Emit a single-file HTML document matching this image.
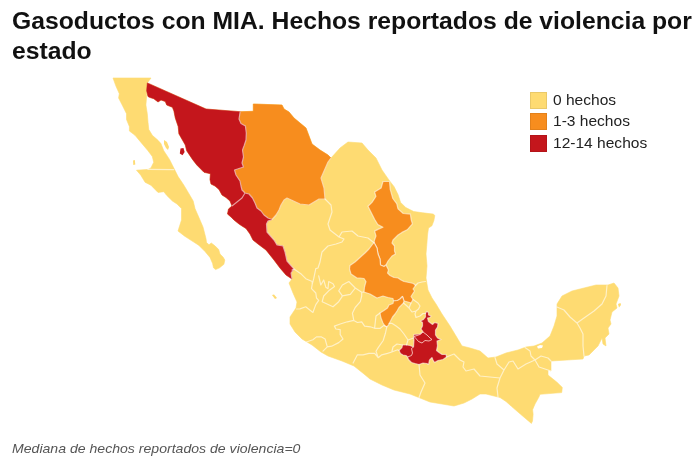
<!DOCTYPE html>
<html lang="es">
<head>
<meta charset="utf-8">
<title>Gasoductos con MIA</title>
<style>
html,body{margin:0;padding:0;background:#fff;}
body{width:700px;height:460px;position:relative;overflow:hidden;font-family:"Liberation Sans",sans-serif;color:#111;}
h1{position:absolute;left:12px;top:6px;margin:0;width:640px;font-size:23px;line-height:30px;font-weight:bold;color:#111;white-space:nowrap;transform:scaleX(1.0746);transform-origin:0 0;}
svg{position:absolute;left:0;top:0;}
.lg{position:absolute;left:530px;width:160px;height:17px;font-size:14px;line-height:17px;color:#222;white-space:nowrap;}
.lg i{position:absolute;left:0;top:0;width:17px;height:17px;box-sizing:border-box;border:1px solid rgba(0,0,0,0.08);}
.lg span{position:absolute;left:23px;top:0;font-size:14.5px;transform:scaleX(1.072);transform-origin:0 0;}
.ft{position:absolute;left:12px;top:438.5px;font-size:13px;line-height:20px;font-style:italic;color:#555;white-space:nowrap;transform:scaleX(1.083);transform-origin:0 0;}
</style>
</head>
<body>
<h1>Gasoductos con MIA. Hechos reportados de violencia por<br>estado</h1>
<svg width="700" height="460" viewBox="0 0 700 460">
<path d="M113,78 L151,78 L147.3,82.9 L206,109 L240.2,111.7 L253.3,111.3 L253.3,104 L282,105 L284,109 L289,112 L294,118 L300,123 L306,128 L309,136 L312,144 L320,150 L328,155 L331,158 L340,148 L348,142 L362,143 L368,150 L376,158 L382,170 L389.6,180.9 L394.1,186.7 L398,194.6 L400.6,202.4 L405.8,207.6 L413.7,211.5 L422.8,212.8 L433.2,214.1 L434.8,215.4 L433.9,220.6 L431.9,225.8 L428.5,228 L427.5,235 L427,242 L426,254 L427,266 L426,278 L428,290 L432,298 L436,304 L442,314 L450,326 L456,336 L462,346 L470,348 L480,351 L488,358 L496,357 L506,353 L518,350 L526,347 L534,346 L542,343 L550,336 L554,326 L557,316 L557,304 L562,296 L572,291 L584,288 L596,285 L608,285 L614,283 L618,288 L619,296 L616,304 L617,308 L612,312 L610,320 L611,324 L608,328 L609,334 L605,338 L606,346 L603,344 L602,338 L598,346 L594,350 L589,355 L584,356 L583,359 L551,361 L551,371 L548,370 L548,375 L557,382.3 L562.3,387.4 L561.7,392.6 L540,394.3 L538.9,397.1 L535,404 L532.6,409.7 L533.1,414.3 L532.5,421 L531.4,423.4 L520.6,414.3 L511.4,406.3 L506,401.5 L500,397.5 L494,396 L486,394 L480,394 L472,399 L464,403 L454,406 L442,404 L430,402 L420,398 L410,394 L394,390 L382,385 L370,379 L364,374 L354,366 L342,361 L328,356 L321,352 L312,345 L302,339 L295,332 L290,324 L290,317 L296,308 L297,302 L293,293 L289,283 L292,279 L286,275 L280,268 L274,260 L266,250 L258,244 L253,240 L250,234 L246,228.5 L242,226 L239,224 L234,220 L231,217 L227.5,214 L228.5,209 L232,206 L230,201 L226,197.5 L222,195 L219,189.5 L215,186 L211,184 L210,179.5 L210.4,173.7 L204,172.3 L196.8,165 L192.5,159.4 L186.7,150.8 L185.3,145 L179.6,135 L178.9,133.8 L178.2,126.6 L175.3,118 L173.9,110.9 L172.4,107.3 L166.7,105 L165.3,101.5 L161,100 L158,102 L153.8,98.7 L150,97.5 L148,96.5 L146.6,90.8 L146.6,96.5 L145.9,105 L147.3,113.7 L148,122.3 L148.8,129.5 L152.3,135.3 L158,140.3 L160.9,143.6 L163.8,150.8 L169.5,159.4 L173.8,168 L178.1,176.6 L183.9,185.2 L188.2,192.4 L193.2,201 L195,208.6 L198.7,217 L203,227 L206,238.7 L206.5,242.6 L209,244.8 L211.3,243 L215.2,246 L218.7,249.6 L220,254 L223,257 L224.8,260 L223.9,264.3 L219.6,267.8 L215.6,269.6 L213.5,267.8 L212.6,263.5 L210,257.4 L204.8,251.3 L198.7,245.2 L193,241.6 L184.4,236 L178,231 L181.5,220 L181.5,208.6 L177,204 L172.4,201 L166.6,195.3 L163.8,191.7 L158,192.4 L150.9,185.2 L145.1,182.3 L140.8,175.2 L136.5,170.2 L148,169.4 L150.9,168 L153.7,162.3 L152.3,156.5 L148,150.8 L140.8,142.2 L135,135.3 L129.4,131 L129.4,126.6 L126.5,119.5 L126.5,113.7 L122.2,105 L118.6,98 L119.3,93.7 L115.8,85.8Z" fill="#fedb72" stroke="#fedb72" stroke-width="0.6" stroke-linejoin="round"/>
<path d="M164,140 L167,142 L169,147 L168,150 L166,148 L164,144Z" fill="#fedb72"/>
<path d="M133,160.5 L134.8,160 L135.3,164.5 L133.3,165Z" fill="#fedb72"/>
<path d="M272,295 L274,294.5 L277,298 L275,299Z" fill="#fedb72"/>
<path d="M618,304 L620.5,303 L621,305 L619,307.5Z" fill="#fedb72"/>
<path d="M180.5,148.5 L183.5,148 L184.6,152 L182.5,155.3 L179.8,153.5Z" fill="#c4161c"/>
<path d="M537,346.5 L540,345 L543,345.5 L542,348 L538,348.5Z" fill="#fff"/>
<path d="M240.2,111.7 L253.3,111.3 L253.3,104 L282,105 L284,109 L289,112 L294,118 L300,123 L306,128 L309,136 L312,144 L320,150 L328,155 L331,158 L328,162 L321,178 L324,188 L325,199 L319,199 L309,205 L300,204 L287,198 L284,200 L281,205 L279,210 L276,215 L272,219.5 L268,218 L264,215 L261,211 L257,208 L255,203 L252.5,198 L249,194 L245,193 L242,190 L241,186 L240,181 L236,175 L234.5,170 L239,168.5 L243.5,167 L242,163 L243.5,157 L242.5,150 L244,146 L246,140 L246.3,133 L245.4,126 L241,123.5 L239,119Z" fill="#f78d1e" stroke="#f78d1e" stroke-width="0.5" stroke-linejoin="round"/>
<path d="M147.3,82.9 L206,109 L240.2,111.7 L239,119 L241,123.5 L245.4,126 L246.3,133 L246,140 L244,146 L242.5,150 L243.5,157 L242,163 L243.5,167 L239,168.5 L234.5,170 L236,175 L240,181 L241,186 L242,190 L245,193 L242,198 L237,202 L232,206 L230,201 L226,197.5 L222,195 L219,189.5 L215,186 L211,184 L210,179.5 L210.4,173.7 L204,172.3 L196.8,165 L192.5,159.4 L186.7,150.8 L185.3,145 L179.6,135 L178.9,133.8 L178.2,126.6 L175.3,118 L173.9,110.9 L172.4,107.3 L166.7,105 L165.3,101.5 L161,100 L158,102 L153.8,98.7 L150,97.5 L148,96.5 L146.6,90.8Z" fill="#c4161c" stroke="#c4161c" stroke-width="0.5" stroke-linejoin="round"/>
<path d="M245,193 L249,194 L252.5,198 L255,203 L257,208 L261,211 L264,215 L268,218 L272,219.5 L268,221 L266.5,224 L267,232 L274,240 L277,245 L283,246 L285,252 L287,261 L294,269 L291,273 L292,279 L286,275 L280,268 L274,260 L266,250 L258,244 L253,240 L250,234 L246,228.5 L242,226 L239,224 L234,220 L231,217 L227.5,214 L228.5,209 L232,206 L237,202 L242,198Z" fill="#c4161c" stroke="#c4161c" stroke-width="0.5" stroke-linejoin="round"/>
<path d="M240.2,111.7 L239,119 L241,123.5 L245.4,126 L246.3,133 L246,140 L244,146 L242.5,150 L243.5,157 L242,163 L243.5,167 L239,168.5 L234.5,170 L236,175 L240,181 L241,186 L242,190 L245,193 M245,193 L242,198 L237,202 L232,206 M245,193 L249,194 L252.5,198 L255,203 L257,208 L261,211 L264,215 L268,218 L272,219.5 M272,219.5 L268,221 L266.5,224 L267,232 L274,240 L277,245 L283,246 L285,252 L287,261 L294,269 L291,273 L292,279 M331,158 L328,162 L321,178 L324,188 L325,199 L319,199 L309,205 L300,204 L287,198 L284,200 L281,205 L279,210 L276,215 L272,219.5" fill="none" stroke="#fff" stroke-opacity="0.55" stroke-width="1.2" stroke-linejoin="round"/>
<path d="M389.5,181.5 L390.2,189.3 L392.8,198.5 L396.7,203.7 L398,208.9 L403.2,213.5 L410.4,214.1 L411.1,219.3 L412.4,223.9 L407.2,229.8 L401.9,232.4 L398,235 L397,236 L393,240 L392,243 L394.5,246 L394.5,251 L395.5,254 L392,256 L388,261 L386,265 L384,266.5 L380.5,265 L380,259 L378,254 L377,248 L374,242.5 L374.5,240 L376,236 L374.6,231.1 L378.5,229.1 L383,227.2 L377.8,224.5 L374.6,219.3 L371.3,212.8 L368,206.3 L372,202.4 L375.9,196.5 L374.6,192 L381.1,188 L383,181.5Z" fill="#f78d1e" stroke="#fff" stroke-opacity="0.55" stroke-width="1.2" stroke-linejoin="round"/>
<path d="M374,242.5 L377,248 L378,254 L380,259 L380.5,265 L384,266.5 L386,265 L388.5,270 L387.5,273 L390,275.5 L394,277.5 L398,278 L401,280 L404,281.5 L409,282.5 L413.5,283.5 L415.5,285.5 L413,289 L414.5,291 L411,296.5 L413,299.5 L411,303 L408,302 L404,301 L402.5,296.5 L400,299 L397.5,300.5 L393.5,301 L393,298.5 L388,297.5 L383,296 L377,298 L370,294 L364,292 L364.5,287 L366,281.5 L364,278.5 L360,278 L357,278 L351,274 L349.5,269 L350,265.5 L355,262 L360,257.5 L365,253 L369,249 L372,245Z" fill="#f78d1e" stroke="#fff" stroke-opacity="0.55" stroke-width="1.2" stroke-linejoin="round"/>
<path d="M393.5,301 L397.5,300.5 L400,299 L402.5,296.5 L404,301 L403.5,303 L401.5,305 L399,307.5 L397,311 L395,314 L392.5,317 L390.5,321 L388.5,325 L386.8,326.8 L385,326 L383,323 L381,318 L380,313 L384,310.5 L387.5,308 L389,305 L393,303.5Z" fill="#f78d1e" stroke="#fff" stroke-opacity="0.55" stroke-width="1.2" stroke-linejoin="round"/>
<path d="M426.5,311.5 L428.5,312.5 L428.5,315 L431,316 L430,317.5 L427.5,318 L428.5,321.5 L432.5,324.5 L434.5,322.5 L438,323.5 L437.5,327 L435.5,330 L435.5,335 L437.5,338 L441,339.5 L437,341 L437.5,346 L436.5,350.5 L439,352.5 L442,354.5 L446,354.5 L446.5,357 L443,359.5 L438,360.5 L434.5,362.5 L433,360 L432,357.5 L429.5,360 L428.5,364.5 L427,363.5 L423,363 L419,364.5 L415,363.5 L411.5,362.5 L408.5,359.5 L407.5,357 L406,355.5 L403,355 L400.5,353.5 L399,350.5 L402,347.5 L402.5,345 L406.5,345 L410,345.5 L413.5,347 L414,340 L413.5,337 L414,334.5 L420,334 L423,331.5 L421,329 L422.5,326 L422.5,322.5 L420.5,321 L423.5,319.5 L425.5,317 L425.5,313.5Z" fill="#c4161c" stroke="#fff" stroke-opacity="0.55" stroke-width="1.2" stroke-linejoin="round"/>
<path d="M414,336.5 L420,334.5 L423,332 L427,335 L430,338 L432,339.5 L429,341 L425,340.5 L422,343 L418.5,341.5 L415.5,338Z M413.5,347 L411.5,348.5 L412.5,353 L411.5,355.5 L407.5,357" fill="none" stroke="#ffd9d0" stroke-opacity="0.9" stroke-width="0.9" stroke-linejoin="round"/>
<path d="M148,169.4 L173.8,169.6 M325,199 L331,205 L332,212 L328,224 L330,230 L339,237 M339,237 L344,239 L342,242 L336,244 L328,246 L322,252 L320,262 L318,268 L315.8,268.6 L313.7,278.7 L312.2,284.4 M292,270 L294,269 L301.5,274.3 L305.8,278.7 L312.2,281.5 L312.2,284.4 M312.2,284.4 L311.5,288.7 L315.8,293 L316.5,298 L318.7,300.3 L315.8,304.6 L312.9,312.5 L305.7,306.8 L300,308.9 L296.5,309 M339,237 L342,232 L352,231 L358,236 L368,238 L373,242 L374,242.5 M338.8,290.8 L342.4,285 L348.8,281.5 L355.3,288 L350.3,294.4 L342.4,295.9 L338.8,290.8 M318.7,275.8 L320.8,285 L323.7,280 L325.9,287.3 L328,288.7 L328.7,281.5 L333,283.7 L334.5,286.5 L328.7,290.8 L323.7,296 L322.2,301.7 L333,306.8 L338.7,301.7 L341.6,297.4 L342.4,295.9 M355.3,288 L361.7,292.3 L364,292 M361.7,292.3 L361.7,296 L360.3,301.7 L355.2,307.5 L352.4,313.2 L353.8,320.4 M353.8,320.4 L347.3,321.8 L340.2,324 L334.4,326.1 L335.9,329 L340.2,329.7 L340.2,334.7 L343,339 L338.7,342.6 L331.6,346.2 L327.3,346.9 M323,351.2 L327.3,346.9 L325.1,339 L321.5,336.9 L316.5,336.9 L312.9,339.8 L306.5,342 M353.8,320.4 L357.4,322.5 L361.7,321.8 L364.6,326.1 L370.3,326.8 L374.6,328.3 L380.3,328.3 L383.9,325.4 L386.8,326.8 M380,313 L376,316 L374.6,328.3 M386.8,326.8 L385.4,333.3 L383.2,340.5 L378.2,347.6 L376,351.2 L378.2,357.7 M378.2,357.7 L374.6,353.4 L368.9,353.4 L363.1,354.8 L357.4,354.8 L355.2,359.1 L353.1,363 M378.2,357.7 L381.8,354.8 L387.5,353.4 L391.8,352 L397.6,349.8 L399,350.5 M389,323.3 L391.8,323.3 L396.1,326.1 L400,329 L404,334 L408,340 L406.5,345 M391.8,352 L393,347 L397,344 L402.5,345 M408,340 L413.5,338 M403.5,303 L407,306 L409,308 L411,303 M413,299.5 L418,303 L420,306 L418.5,309 L416,311 L415,314 L416,317.5 L420,316 L423,313.5 L425.5,313.5 M409,308 L412,312 L416,311 M415.5,285.5 L418,283 L422,282 L425.5,281.5 M419,364.5 L420,375 L425,383 L421,392 L419,397.5 M446.5,357 L454,354 L460,360 L464,362 L463,367 L466,371 L474,369 L480,376 L500,378 M500,378 L497,388 L498,397 M495,357.5 L497,364 L504,370 L500,378 M504,370 L509,362 L513,361 L518,369 L526,364 L535,360 L541,356 L548,358 L551,361 M525,347.5 L530,351 L531,356 L535,360 L539,367 L551,371 M557,307 L564,310 L570,317 L577,323 M577,323 L584,318 L594,311 L602,304 L606,296 L607,285.5 M577,323 L580,328 L583,334 L583,346 L584,356" fill="none" stroke="#fff" stroke-opacity="0.6" stroke-width="1.2" stroke-linejoin="round" stroke-linecap="round"/>
</svg>
<div class="lg" style="top:91.5px"><i style="background:#fedb72"></i><span>0 hechos</span></div>
<div class="lg" style="top:113px"><i style="background:#f78d1e"></i><span>1-3 hechos</span></div>
<div class="lg" style="top:134.5px"><i style="background:#c4161c"></i><span>12-14 hechos</span></div>
<div class="ft">Mediana de hechos reportados de violencia=0</div>
</body>
</html>
